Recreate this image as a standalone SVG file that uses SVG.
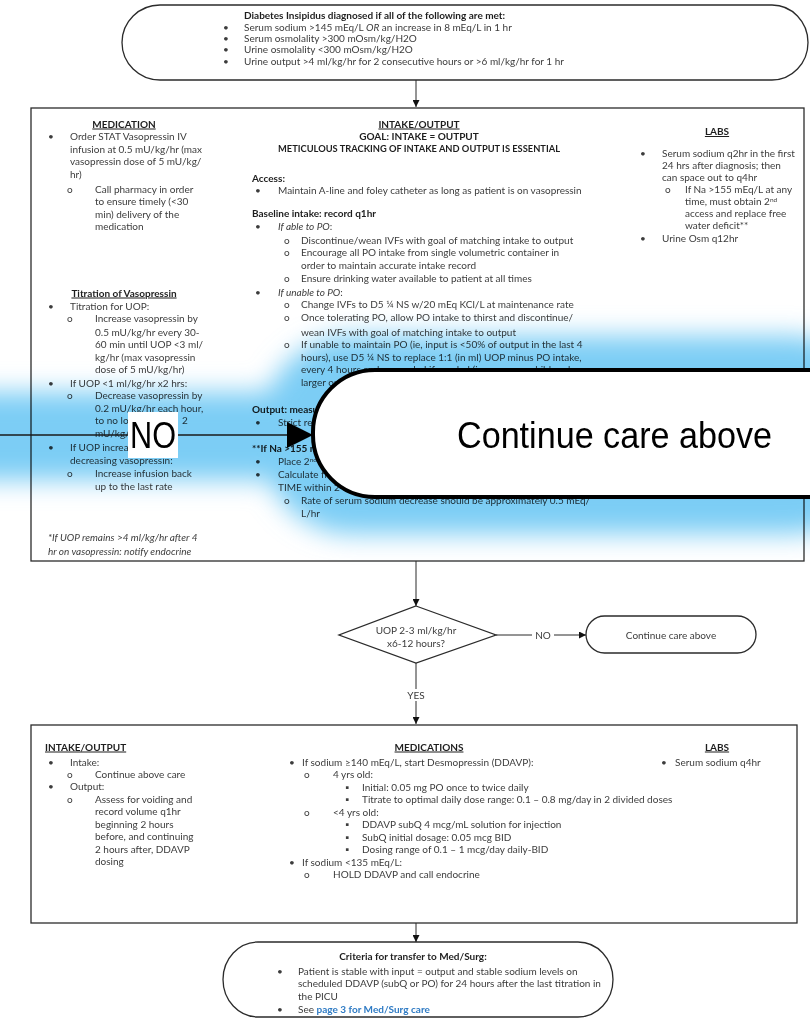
<svg xmlns="http://www.w3.org/2000/svg" width="810" height="1019" viewBox="0 0 810 1019">
  <style>
    text { font-family: Lato, "Liberation Sans", "DejaVu Sans", sans-serif; font-size: 10px; fill: #3c3c3c; }
    .b { font-weight: bold; fill: #1e1e1e; }
    .u { text-decoration: underline; }
    .i { font-style: italic; }
    .c { text-anchor: middle; }
    .shape { fill: #ffffff; stroke: #2b2b2b; stroke-width: 1.3; }
    .conn { fill: none; stroke: #2b2b2b; stroke-width: 1; }
    .link { fill: #2f7bc4; font-weight: bold; }
    .big { font-family: "Liberation Sans", Arial, sans-serif; font-size: 36px; fill: #000000; }
  </style>
  <defs>
    <marker id="arrow" viewBox="0 0 10 10" refX="10" refY="5" markerWidth="7" markerHeight="7" markerUnits="userSpaceOnUse" orient="auto">
      <path d="M0,0 L10,5 L0,10 Z" fill="#111111"/>
    </marker>
    <filter id="haze" x="-30%" y="-60%" width="160%" height="220%">
      <feGaussianBlur stdDeviation="13"/>
    </filter>
  </defs>

  <rect width="810" height="1019" fill="#ffffff"/>

  <!-- Diagnosis criteria (start terminator) -->
  <g id="node-diagnosis">
    <path class="shape" d="M160,5 H772 A36,37.5 0 0 1 772,80 H160 A38,37.5 0 0 1 160,5 Z"/>
    <text class="b" x="244" y="19">Diabetes Insipidus diagnosed if all of the following are met:</text>
    <text x="223" y="30.5">•</text><text x="244" y="30.5">Serum sodium &gt;145 mEq/L <tspan class="i">OR</tspan> an increase in 8 mEq/L in 1 hr</text>
    <text x="223" y="41.5">•</text><text x="244" y="41.5">Serum osmolality &gt;300 mOsm/kg/H2O</text>
    <text x="223" y="53">•</text><text x="244" y="53">Urine osmolality &lt;300 mOsm/kg/H2O</text>
    <text x="223" y="64.5">•</text><text x="244" y="64.5">Urine output &gt;4 ml/kg/hr for 2 consecutive hours or &gt;6 ml/kg/hr for 1 hr</text>
  </g>

  <!-- Vasopressin phase: medication / intake-output / labs -->
  <g id="node-vasopressin">
    <rect class="shape" x="31" y="108" width="773" height="453"/>

    <!-- medication column -->
    <text class="b u c" x="124" y="127.5">MEDICATION</text>
    <text x="48" y="140">•</text><text x="70" y="140">Order STAT Vasopressin IV</text>
    <text x="70" y="152.5">infusion at 0.5 mU/kg/hr (max</text>
    <text x="70" y="165">vasopressin dose of 5 mU/kg/</text>
    <text x="70" y="177.5">hr)</text>
    <text x="67" y="192.5">o</text><text x="95" y="192.5">Call pharmacy in order</text>
    <text x="95" y="205">to ensure timely (&lt;30</text>
    <text x="95" y="217.5">min) delivery of the</text>
    <text x="95" y="230">medication</text>

    <text class="b u c" x="124" y="296.5">Titration of Vasopressin</text>
    <text x="48" y="309.5">•</text><text x="70" y="309.5">Titration for UOP:</text>
    <text x="67" y="322">o</text><text x="95" y="322">Increase vasopressin by</text>
    <text x="95" y="335.5">0.5 mU/kg/hr every 30-</text>
    <text x="95" y="348">60 min until UOP &lt;3 ml/</text>
    <text x="95" y="360.5">kg/hr  (max vasopressin</text>
    <text x="95" y="373">dose of 5 mU/kg/hr)</text>
    <text x="48" y="386.5">•</text><text x="70" y="386.5">If UOP &lt;1 ml/kg/hr x2 hrs:</text>
    <text x="67" y="399">o</text><text x="95" y="399">Decrease vasopressin by</text>
    <text x="95" y="411.5">0.2 mU/kg/hr each hour,</text>
    <!-- these lines run under the enlarged NO label; only their ends show -->
    <text x="95" y="424">to no lo</text><text x="182" y="424">2</text>
    <text x="95" y="437">mU/kg/</text>
    <text x="48" y="451">•</text><text x="70" y="451">If UOP increa</text>
    <text x="70" y="464">decreasing vasopressin:</text>
    <text x="67" y="477">o</text><text x="95" y="477">Increase infusion back</text>
    <text x="95" y="490">up to the last rate</text>
    <text class="i" x="48" y="541">*If UOP remains &gt;4 ml/kg/hr after 4</text>
    <text class="i" x="48" y="555">hr on vasopressin: notify endocrine</text>

    <!-- intake / output column -->
    <text class="b u c" x="419" y="127.5">INTAKE/OUTPUT</text>
    <text class="b c" x="419" y="139.5">GOAL: INTAKE = OUTPUT</text>
    <text class="b c" x="419" y="151.5" textLength="282" lengthAdjust="spacingAndGlyphs">METICULOUS TRACKING OF INTAKE AND OUTPUT IS ESSENTIAL</text>
    <text class="b" x="252" y="181.5">Access:</text>
    <text x="255" y="193.5">•</text><text x="278" y="193.5">Maintain A-line and foley catheter as long as patient is on vasopressin</text>
    <text class="b" x="252" y="216.5">Baseline intake: record q1hr</text>
    <text x="255" y="229.5">•</text><text x="278" y="229.5"><tspan class="i">If able to PO</tspan>:</text>
    <text x="284" y="243.5">o</text><text x="301" y="243.5">Discontinue/wean IVFs with goal of matching intake to output</text>
    <text x="284" y="255.5">o</text><text x="301" y="255.5">Encourage all PO intake from single volumetric container in</text>
    <text x="301" y="268.5">order to maintain accurate intake record</text>
    <text x="284" y="282">o</text><text x="301" y="282">Ensure drinking water available to patient at all times</text>
    <text x="255" y="295.5">•</text><text x="278" y="295.5"><tspan class="i">If unable to PO</tspan>:</text>
    <text x="284" y="308">o</text><text x="301" y="308">Change IVFs to D5 ¼ NS w/20 mEq KCl/L at maintenance rate</text>
    <text x="284" y="321">o</text><text x="301" y="321">Once tolerating PO, allow PO intake to thirst and discontinue/</text>
    <text x="301" y="335.5">wean IVFs with goal of matching intake to output</text>
    <text x="284" y="347.5">o</text><text x="301" y="347.5">If unable to maintain PO (ie, input is &lt;50% of output in the last 4</text>
    <text x="301" y="360.5">hours), use D5 ¼ NS to replace 1:1 (in ml) UOP minus PO intake,</text>
    <text x="301" y="372.5">every 4 hours and as needed if needed (i.e., younger children have</text>
    <text x="301" y="385.5">larger output volumes)</text>
    <text class="b" x="252" y="412.5">Output: measure q1hr</text>
    <text x="255" y="425.5">•</text><text x="278" y="425.5">Strict record of all output</text>
    <text class="b" x="252" y="451.5">**If Na &gt;155 mEq/L:</text>
    <text x="255" y="464.5">•</text><text x="278" y="464.5">Place 2<tspan dy="-3" font-size="6.5">nd</tspan><tspan dy="3"> IV access</tspan></text>
    <text x="255" y="477.5">•</text><text x="278" y="477.5">Calculate free water deficit and replace OVER</text>
    <text x="278" y="490.5">TIME within 24-48 hours</text>
    <text x="284" y="503.5">o</text><text x="301" y="503.5">Rate of serum sodium decrease should be approximately 0.5 mEq/</text>
    <text x="301" y="516.5">L/hr</text>

    <!-- labs column -->
    <text class="b u c" x="717" y="135">LABS</text>
    <text x="640" y="157">•</text><text x="662" y="157">Serum sodium q2hr in the first</text>
    <text x="662" y="169">24 hrs after diagnosis; then</text>
    <text x="662" y="181">can space out to q4hr</text>
    <text x="665" y="193">o</text><text x="685" y="193">If Na &gt;155 mEq/L at any</text>
    <text x="685" y="205">time, must obtain 2<tspan dy="-3" font-size="6.5">nd</tspan></text>
    <text x="685" y="217">access and replace free</text>
    <text x="685" y="229">water deficit**</text>
    <text x="640" y="242">•</text><text x="662" y="242">Urine Osm q12hr</text>
  </g>

  <!-- Decision on urine output -->
  <g id="node-decision">
    <polygon class="shape" points="416,606 496,635 416,663 339,635"/>
    <text class="c" x="416" y="633.5">UOP 2-3 ml/kg/hr</text>
    <text class="c" x="416" y="646.5">x6-12 hours?</text>
  </g>

  <g id="node-continue">
    <rect class="shape" x="586" y="616" width="170" height="37" rx="18.5"/>
    <text class="c" x="671" y="638.5">Continue care above</text>
  </g>

  <!-- DDAVP phase -->
  <g id="node-ddavp">
    <rect class="shape" x="31" y="725" width="766" height="198"/>

    <text class="b u" x="45" y="750.5">INTAKE/OUTPUT</text>
    <text x="48" y="765.5">•</text><text x="70" y="765.5">Intake:</text>
    <text x="67" y="777.5">o</text><text x="95" y="777.5">Continue above care</text>
    <text x="48" y="789.5">•</text><text x="70" y="789.5">Output:</text>
    <text x="67" y="802.5">o</text><text x="95" y="802.5">Assess for voiding and</text>
    <text x="95" y="815">record volume q1hr</text>
    <text x="95" y="827.5">beginning 2 hours</text>
    <text x="95" y="840">before, and continuing</text>
    <text x="95" y="852.5">2 hours after, DDAVP</text>
    <text x="95" y="865">dosing</text>

    <text class="b u c" x="429" y="750.5">MEDICATIONS</text>
    <text x="289" y="765.5">•</text><text x="302" y="765.5">If sodium  ≥140 mEq/L, start Desmopressin (DDAVP):</text>
    <text x="304" y="778">o</text><text x="333" y="778"> 4 yrs old:</text>
    <text x="345" y="790.5">▪</text><text x="362" y="790.5">Initial: 0.05 mg PO once to twice daily</text>
    <text x="345" y="803">▪</text><text x="362" y="803">Titrate to optimal daily dose range: 0.1 – 0.8 mg/day in 2 divided doses</text>
    <text x="304" y="815.5">o</text><text x="333" y="815.5">&lt;4 yrs old:</text>
    <text x="345" y="828">▪</text><text x="362" y="828">DDAVP subQ 4 mcg/mL solution for injection</text>
    <text x="345" y="840.5">▪</text><text x="362" y="840.5">SubQ initial dosage: 0.05 mcg BID</text>
    <text x="345" y="853">▪</text><text x="362" y="853">Dosing range of 0.1 – 1 mcg/day daily-BID</text>
    <text x="289" y="865.5">•</text><text x="302" y="865.5">If sodium &lt;135 mEq/L:</text>
    <text x="304" y="878">o</text><text x="333" y="878">HOLD DDAVP and call endocrine</text>

    <text class="b u c" x="717" y="750.5">LABS</text>
    <text x="661" y="765.5">•</text><text x="675" y="765.5">Serum sodium q4hr</text>
  </g>

  <!-- Transfer criteria (end terminator) -->
  <g id="node-transfer">
    <path class="shape" d="M258,942 H578 A35,37.5 0 0 1 578,1017 H258 A35,37.5 0 0 1 258,942 Z"/>
    <text class="b c" x="413" y="960">Criteria for transfer to Med/Surg:</text>
    <text x="277" y="974.5">•</text><text x="298" y="974.5">Patient is stable with input = output and stable sodium levels on</text>
    <text x="298" y="987">scheduled DDAVP (subQ or PO) for 24 hours after the last titration in</text>
    <text x="298" y="999.5">the PICU</text>
    <text x="277" y="1012.5">•</text><text x="298" y="1012.5">See <tspan class="link">page 3 for Med/Surg care</tspan></text>
  </g>

  <!-- Connectors -->
  <g id="connectors">
    <path class="conn" d="M416,80 V107" marker-end="url(#arrow)"/>
    <path class="conn" d="M416,561 V606" marker-end="url(#arrow)"/>
    <path class="conn" d="M496,635 H586" marker-end="url(#arrow)"/>
    <path class="conn" d="M416,663 V724" marker-end="url(#arrow)"/>
    <path class="conn" d="M416,923 V942" marker-end="url(#arrow)"/>
    <rect x="532" y="629" width="22" height="12" fill="#ffffff"/>
    <text class="c" x="543" y="638.5">NO</text>
    <rect x="402" y="689" width="28" height="12" fill="#ffffff"/>
    <text class="c" x="416" y="698.5">YES</text>
  </g>

  <!-- Enlarged NO branch drawn over the page, with its blue selection glow -->
  <g id="enlarged-no-branch">
    <g filter="url(#haze)" style="mix-blend-mode:multiply" fill="#7ccdf5">
      <rect x="-40" y="392" width="380" height="88"/>
      <rect x="262" y="336" width="620" height="198" rx="90"/>
    </g>
    <path d="M0,435 H290" stroke="#1a1a1a" stroke-width="1.6" fill="none"/>
    <rect x="128" y="412" width="50" height="46" fill="#ffffff"/>
    <text class="big c" x="153" y="448" textLength="46" lengthAdjust="spacingAndGlyphs">NO</text>
    <polygon points="287,422 313,435 287,448" fill="#000000"/>
    <rect x="313" y="370" width="580" height="127" rx="62" fill="#ffffff" stroke="#000000" stroke-width="4"/>
    <text class="big" x="457" y="448" textLength="315" lengthAdjust="spacingAndGlyphs">Continue care above</text>
  </g>
</svg>
